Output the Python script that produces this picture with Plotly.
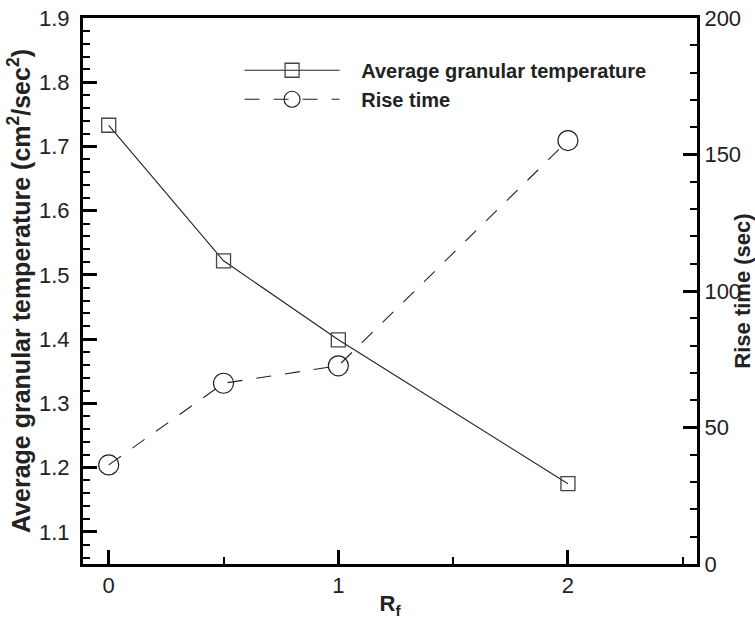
import plotly.graph_objects as go

rf = [0, 0.5, 1, 2]
avg_temp = [1.733, 1.522, 1.399, 1.175]
rise_time = [36.3, 66.2, 72.6, 155.1]

x_ticks = [0, 1, 2]
y_ticks = [1.1, 1.2, 1.3, 1.4, 1.5, 1.6, 1.7, 1.8, 1.9]
y2_ticks = [0, 50, 100, 150, 200]

FONT = "Liberation Sans, Arial, Helvetica, sans-serif"
GAP = "\u00a0\u00a0\u00a0"

fig = go.Figure()
fig.add_trace(go.Scatter(
    x=rf, y=avg_temp, name=GAP + "<b>Average granular temperature</b>",
    mode="lines+markers",
    line=dict(color="#222", width=1.1),
    marker=dict(symbol="square-open", size=14, color="#444", line=dict(width=1.3)),
))
fig.add_trace(go.Scatter(
    x=rf, y=rise_time, name=GAP + "<b>Rise time</b>", yaxis="y2",
    mode="lines+markers",
    line=dict(color="#222", width=1.1, dash="15px,14px"),
    marker=dict(symbol="circle-open", size=20, color="#222", line=dict(width=1.2)),
))

axis_common = dict(
    showline=True, linecolor="black", linewidth=3,
    ticks="inside", tickcolor="black", tickwidth=3, ticklen=14,
    showgrid=False, zeroline=False,
    tickfont=dict(family=FONT, size=22, color="#222"),
)

fig.update_layout(
    width=755, height=619,
    margin=dict(l=83, r=58, t=18, b=55),
    paper_bgcolor="white", plot_bgcolor="white",
    font=dict(family=FONT, color="#222"),
    showlegend=True,
    legend=dict(
        x=0.255, y=0.94, xanchor="left", yanchor="top",
        bgcolor="rgba(0,0,0,0)", borderwidth=0,
        font=dict(family=FONT, size=20, color="#222"),
        itemwidth=95, tracegroupgap=0,
    ),
    xaxis=dict(
        **axis_common,
        range=[-0.112, 2.562], tickmode="array", tickvals=x_ticks,
        ticktext=[str(v) for v in x_ticks],
        mirror=True,
        minor=dict(dtick=0.5, tick0=0, ticks="inside", ticklen=7, tickwidth=1.5, tickcolor="black"),
        title=dict(text="<b>R<sub>f</sub></b>", font=dict(family=FONT, size=22, color="#222"), standoff=2),
        automargin=False,
    ),
    yaxis=dict(
        **axis_common,
        range=[1.05, 1.9], tickmode="array", tickvals=y_ticks,
        ticktext=[f"{v:.1f}" for v in y_ticks],
        ticklabelstandoff=6,
        minor=dict(dtick=0.02, tick0=1.0, ticks="inside", ticklen=7, tickwidth=1.5, tickcolor="black"),
        title=dict(text="<b>Average granular temperature (cm<sup>2</sup>/sec<sup>2</sup>)</b>",
                   font=dict(family=FONT, size=25, color="#222"), standoff=2),
        automargin=False,
    ),
    yaxis2=dict(
        **axis_common,
        overlaying="y", side="right", anchor="x",
        range=[0, 200], tickmode="array", tickvals=y2_ticks,
        ticktext=[str(v) for v in y2_ticks],
        minor=dict(dtick=10, tick0=0, ticks="inside", ticklen=7, tickwidth=1.5, tickcolor="black"),
        title=dict(text="<b>Rise time (sec)</b>", font=dict(family=FONT, size=22, color="#222"), standoff=2),
        automargin=False,
    ),
)

fig.write_html("out.html")
